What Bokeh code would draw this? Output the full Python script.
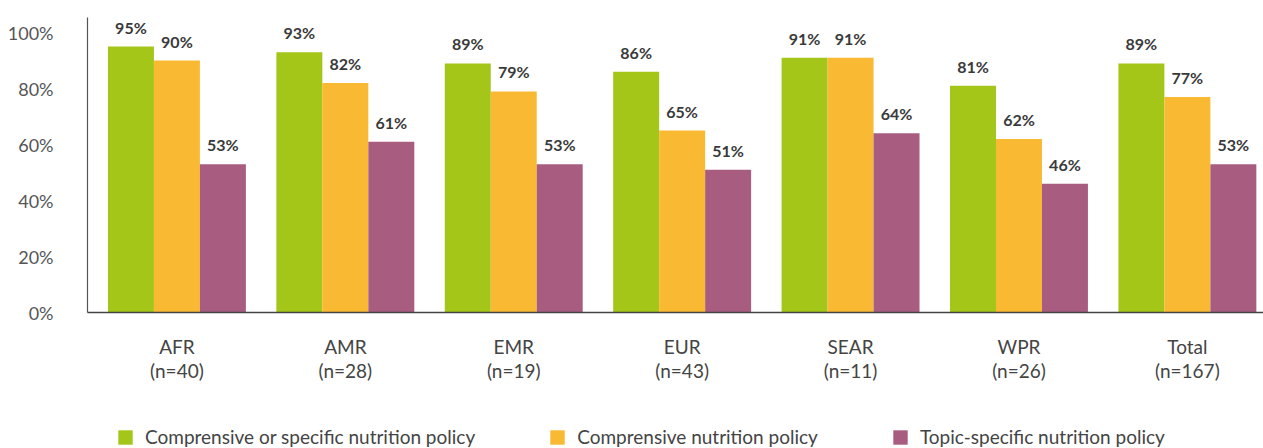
from bokeh.plotting import figure
from bokeh.layouts import column
from bokeh.models import (ColumnDataSource, Range1d, FixedTicker, NumeralTickFormatter,
                          Legend, LegendItem, LabelSet)
from bokeh.core.properties import value
from bokeh.embed import file_html
from bokeh.resources import INLINE

regions = ["AFR", "AMR", "EMR", "EUR", "SEAR", "WPR", "Total"]
counts = ["n=40", "n=28", "n=19", "n=43", "n=11", "n=26", "n=167"]
comp_or_specific = [95, 93, 89, 86, 91, 81, 89]
comprehensive = [90, 82, 79, 65, 91, 62, 77]
topic_specific = [53, 61, 53, 51, 64, 46, 53]
series_names = ["Comprensive or specific nutrition policy",
                "Comprensive nutrition policy",
                "Topic-specific nutrition policy"]
colors = ["#A3C619", "#FAB932", "#A85D80"]
y_ticks = [0, 20, 40, 60, 80, 100]

FONT = "Lato"
W = 1263
LEFT = 87
bw = 0.273
offsets = [-bw, 0.0, bw]

p = figure(width=W, height=412, output_backend="svg", toolbar_location=None,
           x_range=Range1d(-0.531, 6.452), y_range=Range1d(0, 105.4),
           min_border_left=LEFT, min_border_right=0, min_border_top=17,
           min_border_bottom=100)
p.outline_line_color = None
p.grid.grid_line_color = None

xs = list(range(len(regions)))
for vals, off, col in zip([comp_or_specific, comprehensive, topic_specific], offsets, colors):
    src = ColumnDataSource(dict(x=[x + off for x in xs], top=vals,
                                lab=[f"{v}%" for v in vals]))
    p.vbar(x="x", top="top", width=bw, bottom=0, source=src,
           fill_color=col, line_color=None)
    p.add_layout(LabelSet(x="x", y="top", text="lab", source=src,
                          text_align="center", text_baseline="bottom", y_offset=10,
                          text_font=value(FONT), text_font_style="bold",
                          text_font_size="16px", text_color="#3a3a3a"))

# x axis
p.xaxis.ticker = FixedTicker(ticks=xs)
p.xaxis.major_label_overrides = {i: f"{r}\n({c})" for i, (r, c) in enumerate(zip(regions, counts))}
p.xaxis.major_label_text_font = FONT
p.xaxis.major_label_text_font_size = "19px"
p.xaxis.major_label_text_color = "#444444"
p.xaxis.major_label_text_line_height = 1.05
p.xaxis.major_label_standoff = 16
p.xaxis.major_tick_line_color = None
p.xaxis.minor_tick_line_color = None
p.xaxis.axis_line_color = "#444444"
p.xaxis.axis_line_width = 1.5

# y axis
p.yaxis.ticker = FixedTicker(ticks=y_ticks)
p.yaxis.formatter = NumeralTickFormatter(format="0")
p.yaxis.major_label_overrides = {v: f"{v}%" for v in y_ticks}
p.yaxis.major_label_text_font = FONT
p.yaxis.major_label_text_font_size = "18px"
p.yaxis.major_label_text_color = "#555555"
p.yaxis.major_label_text_baseline = "alphabetic"
p.yaxis.major_label_standoff = 28
p.yaxis.major_tick_line_color = None
p.yaxis.minor_tick_line_color = None
p.yaxis.axis_line_color = "#555555"
p.yaxis.axis_line_width = 1.2

# legend strip (its swatches are drawn from hidden bars outside the strip's range)
lg = figure(width=W, height=36, output_backend="svg", toolbar_location=None,
            x_range=Range1d(0, 1), y_range=Range1d(0, 1),
            x_axis_location=None, y_axis_location=None,
            min_border_left=LEFT, min_border_right=0, min_border_top=0, min_border_bottom=0)
lg.grid.grid_line_color = None
lg.outline_line_color = None
leg_renderers = [lg.vbar(x=[-5], top=[-5], width=0.1, fill_color=c, line_color=None)
                 for c in colors]
legend = Legend(items=[LegendItem(label=n, renderers=[r]) for n, r in zip(series_names, leg_renderers)],
                orientation="horizontal", location=(29, 0),
                glyph_width=18, glyph_height=18, label_height=18, label_standoff=11, spacing=73,
                padding=0, margin=0, border_line_color=None, background_fill_alpha=0,
                label_text_font=FONT, label_text_font_size="19px",
                label_text_color="#444444")
lg.add_layout(legend, "center")

layout = column(p, lg, spacing=0)
open("out.html", "w").write(file_html(layout, INLINE))
